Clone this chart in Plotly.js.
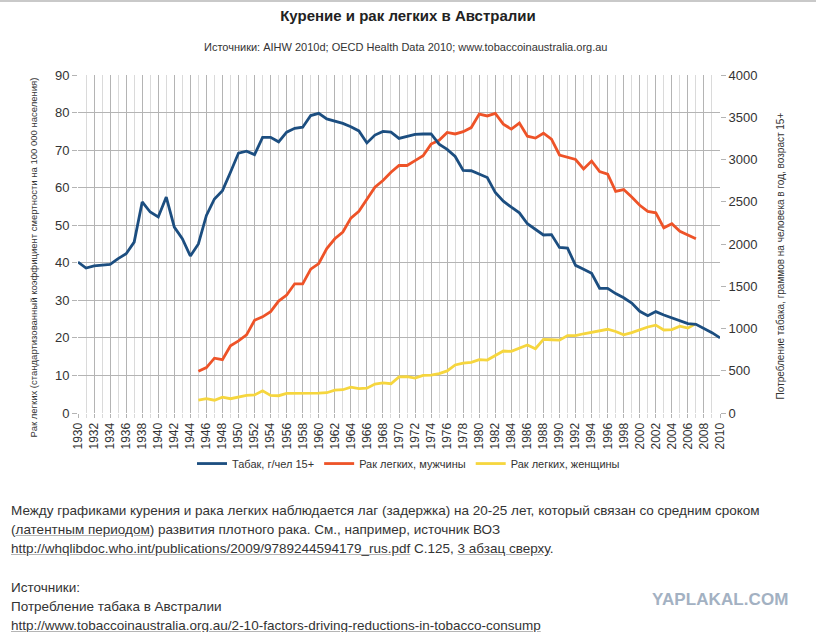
<!DOCTYPE html>
<html>
<head>
<meta charset="utf-8">
<script src="https://cdn.plot.ly/plotly-3.0.1.min.js"></script>
<style>
  body { margin: 0; background: #fff; font-family: "Liberation Sans", Arial, sans-serif; }
  #wrap { position: relative; width: 816px; height: 632px; overflow: hidden; }
  #topline { position: absolute; left: 0; top: 0; width: 816px; height: 2px; background: #c9c9c9; }
  #chart { position: absolute; left: 0; top: 0; width: 816px; height: 490px; }
  .txt { position: absolute; left: 11px; font-size: 13.5px; color: #333; white-space: nowrap; }
  .lnk { text-decoration: underline; text-decoration-color: #b5b5b5; }
  #wm { position: absolute; left: 652px; top: 590px; font-size: 17px; font-weight: bold; color: #a3b1c2; letter-spacing: 0.1px; }
</style>
</head>
<body>
<div id="wrap">
  <div id="chart"></div>
  <div id="topline"></div>
  <div class="txt" style="top:503px">Между графиками курения и рака легких наблюдается лаг (задержка) на 20-25 лет, который связан со средним сроком</div>
  <div class="txt" style="top:522px">(<span class="lnk">латентным периодом</span>) развития плотного рака. См., например, источник ВОЗ</div>
  <div class="txt" style="top:541px"><span class="lnk">http://whqlibdoc.who.int/publications/2009/9789244594179_rus.pdf</span> С.125, <span class="lnk">3 абзац сверху</span>.</div>
  <div class="txt" style="top:580px">Источники:</div>
  <div class="txt" style="top:599px">Потребление табака в Австралии</div>
  <div class="txt" style="top:618px"><span class="lnk">http://www.tobaccoinaustralia.org.au/2-10-factors-driving-reductions-in-tobacco-consump</span></div>
  <div id="wm">YAPLAKAL.COM</div>
</div>
<script>
// годы
var years_tobacco = [];
for (var i = 1930; i <= 2010; i++) { years_tobacco.push(i); }
var years_cancer = [];
for (var j = 1945; j <= 2007; j++) { years_cancer.push(j); }

// Табак, г/чел 15+ (правая ось)
var tobacco = [1787, 1716, 1742, 1747, 1760, 1827, 1884, 2022, 2498, 2378,
  2320, 2556, 2200, 2062, 1858, 2000, 2338, 2533, 2631, 2849,
  3076, 3098, 3058, 3262, 3262, 3209, 3324, 3369, 3382, 3520,
  3547, 3480, 3453, 3427, 3387, 3338, 3196, 3289, 3333, 3324,
  3249, 3271, 3298, 3302, 3302, 3182, 3120, 3036, 2871, 2867,
  2827, 2787, 2609, 2507, 2436, 2369, 2240, 2173, 2107, 2111,
  1960, 1951, 1747, 1702, 1653, 1476, 1476, 1413, 1364, 1302,
  1204, 1151, 1200, 1160, 1129, 1098, 1058, 1049, 1000, 951,
  889];

// Рак легких, мужчины (левая ось)
var cancer_men = [11.1, 12.1, 14.6, 14.2, 17.9,
  19.2, 20.8, 24.7, 25.6, 27.0, 29.8, 31.4, 34.4, 34.4, 38.3,
  39.8, 43.8, 46.4, 48.2, 51.9, 53.7, 57.0, 60.1, 61.9, 64.1,
  65.9, 65.9, 67.2, 68.5, 71.6, 72.6, 74.7, 74.3, 74.9, 76.0,
  79.6, 79.1, 79.8, 76.9, 75.6, 77.2, 73.7, 73.2, 74.5, 72.9,
  68.7, 68.1, 67.5, 65.0, 67.1, 64.3, 63.6, 59.0, 59.5, 57.5,
  55.3, 53.7, 53.3, 49.3, 50.4, 48.4, 47.5, 46.4];

// Рак легких, женщины (левая ось)
var cancer_women = [3.4, 3.8, 3.4, 4.2, 3.8,
  4.3, 4.7, 4.8, 5.9, 4.7, 4.6, 5.2, 5.2, 5.1, 5.1,
  5.3, 5.4, 6.1, 6.2, 6.9, 6.5, 6.6, 7.7, 8.0, 7.8,
  9.6, 9.7, 9.3, 10.0, 10.1, 10.5, 11.2, 12.8, 13.3, 13.5,
  14.2, 14.1, 15.3, 16.5, 16.4, 17.2, 18.1, 17.1, 19.6, 19.5,
  19.4, 20.6, 20.6, 21.1, 21.5, 22.0, 22.3, 21.7, 20.8, 21.4,
  22.2, 22.9, 23.4, 22.1, 22.2, 23.1, 22.6, 23.8];

var series_names = ['Табак, г/чел 15+', 'Рак легких, мужчины', 'Рак легких, женщины'];

var data = [
  { x: years_tobacco, y: tobacco, name: series_names[0], yaxis: 'y2', mode: 'lines',
    line: { color: '#1c4e80', width: 2.8 } },
  { x: years_cancer, y: cancer_men, name: series_names[1], mode: 'lines',
    line: { color: '#ee5328', width: 2.8 } },
  { x: years_cancer, y: cancer_women, name: series_names[2], mode: 'lines',
    line: { color: '#f6d63e', width: 2.8 } }
];

var tickFont = { family: 'Liberation Sans, Arial, sans-serif', size: 13, color: '#333' };

var layout = {
  width: 816, height: 490,
  margin: { l: 78, r: 96, t: 75, b: 74 },
  paper_bgcolor: '#fff', plot_bgcolor: '#fff',
  showlegend: true,
  font: { family: 'Liberation Sans, Arial, sans-serif', color: '#333' },
  title: {
    text: '<b>Курение и рак легких в Австралии</b>',
    font: { size: 15, color: '#222' },
    x: 0.5, xref: 'container', xanchor: 'center',
    y: 1 - 16 / 490, yref: 'container', yanchor: 'middle'
  },
  xaxis: {
    range: [1930, 2010], tick0: 1930, dtick: 2,
    tickangle: -90, tickfont: { family: 'Liberation Sans, Arial, sans-serif', size: 12, color: '#333' },
    showgrid: true, gridcolor: '#b4b4b4', gridwidth: 1,
    ticks: 'outside', ticklen: 4, tickcolor: '#b4b4b4',
    minor: { dtick: 1, showgrid: true, gridcolor: '#dadada', ticks: 'outside', ticklen: 4, tickcolor: '#dadada' },
    zeroline: false, showline: false
  },
  yaxis: {
    range: [0, 90], dtick: 10, tickfont: tickFont,
    showgrid: true, gridcolor: '#b4b4b4', gridwidth: 1,
    ticks: 'outside', ticklen: 5, tickcolor: '#b4b4b4',
    zeroline: false, showline: false
  },
  yaxis2: {
    range: [0, 4000], dtick: 500, overlaying: 'y', side: 'right', tickfont: tickFont,
    showgrid: false, ticks: 'outside', ticklen: 5, tickcolor: '#b4b4b4',
    zeroline: false, showline: false
  },
  legend: {
    orientation: 'h', x: (408 - 78) / 641, xanchor: 'center',
    y: (416 - 467) / 341, yanchor: 'middle',
    font: { size: 11, color: '#333' }, itemwidth: 30
  },
  annotations: [
    { text: 'Источники: AIHW 2010d; OECD Health Data 2010; www.tobaccoinaustralia.org.au',
      xref: 'paper', yref: 'paper', x: (406 - 78) / 642, y: (416 - 47) / 341,
      xanchor: 'center', yanchor: 'middle', showarrow: false, font: { size: 11, color: '#333' } },
    { text: 'Рак легких (стандартизованный коэффициент смертности на 100 000 населения)',
      xref: 'paper', yref: 'paper', x: (33 - 78) / 642, y: (416 - 259) / 341,
      xanchor: 'center', yanchor: 'middle', textangle: -90, showarrow: false,
      font: { size: 9.5, color: '#333' } },
    { text: 'Потребление табака, граммов на человека в год, возраст 15+',
      xref: 'paper', yref: 'paper', x: (780 - 78) / 642, y: (416 - 258) / 341,
      xanchor: 'center', yanchor: 'middle', textangle: -90, showarrow: false,
      font: { size: 10, color: '#333' } }
  ]
};

Plotly.newPlot('chart', data, layout, { displayModeBar: false, staticPlot: true });
</script>
</body>
</html>
